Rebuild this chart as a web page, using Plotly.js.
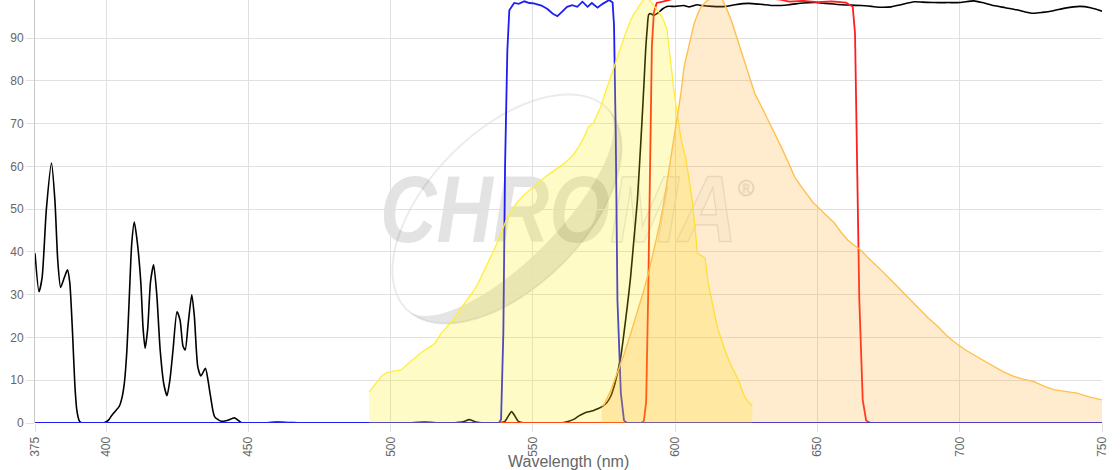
<!DOCTYPE html>
<html>
<head>
<meta charset="utf-8">
<script src="https://cdn.plot.ly/plotly-3.0.1.min.js"></script>
<style>html,body{margin:0;padding:0;background:#fff;}#chart{width:1120px;height:470px;}</style>
</head>
<body>
<div id="chart"></div>
<script>
// ---- Data (wavelength nm, transmission / intensity %) ----
const xTickVals = [375, 400, 450, 500, 550, 600, 650, 700, 750];
const xTickText = ['375', '400', '450', '500', '550', '600', '650', '700', '750'];
const yTickVals = [0, 10, 20, 30, 40, 50, 60, 70, 80, 90];
const xAxisTitle = 'Wavelength (nm)';

const blackX = [375,376.4,377.5,379,380.8,382,383,384,385.3,386.4,387.2,388.2,389,389.7,390.5,391.1,395,399.5,401,401.7,403,404.6,405.6,406.4,407.3,408.1,409,409.9,411,412.2,413,413.7,414.6,415.6,416.7,417.8,419,420.3,421.4,422.4,423.5,424.9,426,427,427.8,428.8,430.1,431,432.2,433.3,434.9,435.8,436.7,438.1,440.4,442.5,445.1,446.5,447.4,455,460,465,470,505,512,518,525,527.7,530,533,537.6,540,541.5,542.5,543.5,545,547,559.8,562,564.5,566,568,570,571.5,573,574.4,576,577.3,578.5,579.7,581,582,583.2,584.3,585.5,586.7,587.6,588.4,589,589.6,590.2,590.7,591.5,592.5,593.3,594.2,595.5,597.1,600,603,605,607.7,609.3,613,617.6,621,625.8,630,635,640,645,649.4,653,658.3,662,665.3,669,672.3,676,679.3,684,687,691,696,700.2,704.9,708,711.9,716,720,723,725.9,729,732.9,737,742.2,746,750];
const blackY = [39.7,30.7,34,50,60.8,52,38,31.7,34,35.8,33,21,9,3,0.6,0.1,0,0.1,0.8,1.5,2.6,3.9,6,9.3,17,28.8,42,47,42,32.7,22,17.5,22,33,37,30,17,9,6.4,10,17,26,24,18,17.1,23,30,25,13.2,11,12.8,10,6.2,1.5,0.4,0.6,1.2,0.6,0.1,0.05,0.2,0.1,0,0,0.2,0,0.2,0.8,0.2,0,0,0.3,1.8,2.7,1.8,0.3,0,0,0.3,0.9,1.6,2.3,2.7,3,3.4,3.9,4.8,6.2,8.5,11.7,16,21,27.5,34,43,52,62,71.5,79,87,92.5,95.5,95.7,95.3,95.6,96,96.8,97.4,97.4,97.6,97.3,97.8,97.6,97.4,97.4,97.8,98.1,97.9,97.6,97.8,98.2,98.3,98.1,97.8,97.7,97.6,97.4,97.2,97.3,97.8,98.5,98.4,98.3,98.3,98.3,98.7,98.3,97.6,97.1,96.6,96.1,95.8,96,96.4,97,97.4,97.1,96.3];

const blueX = [375,538,538.8,539.6,540.2,541,541.7,543.4,545,547,548.7,550.3,553,555.1,557,558.6,560,562,563.8,565.6,567.4,569.2,570.7,572.7,574.5,576.8,578,578.5,579.1,579.7,580.9,582,583,750];
const blueY = [0,0,0.8,21,60,87,96.5,98.2,98,98.6,98.2,98.1,97.6,96.8,95.7,95.1,96,97.3,97.7,97.3,98.5,97.3,98.2,97.1,98,98.9,98.3,93,67.7,28.8,7,0.6,0,0];

const redX = [375,588,589,589.8,590.5,591.2,591.8,592.5,593.5,596,600,610,620,630,637,640,645,650,655,660,662.4,663.2,663.9,664.7,665.9,667.1,668.7,750];
const redY = [0,0,0.5,5,30,65,88,96,98.2,98.6,99.3,99.5,99.6,99.4,99.0,98.5,98.7,98.4,98.6,98.3,97.3,91,60,29,5.4,0.6,0,0];

const yellowX = [492.4,494.5,496.7,498.5,500.2,503.7,506,509,511,513.1,515.5,517.8,520,522.4,524,525.9,527.7,529.4,531,532.4,534,535.3,536.7,538.2,539.7,541.1,542.8,544.6,547,549.3,552,555.1,558,561,562.8,564.5,566.3,568,569.5,570.3,571.3,572.5,573.8,575.5,577.3,579,580.8,582.5,584.3,585.5,586.7,588,589,590.5,591.5,592.5,594.8,596,597.1,598.3,599.5,600.8,602,603.7,606,607.2,607.8,609.6,610.5,611.6,612.8,614,615,616.3,618,619.8,621,622.2,623.3,624.4,625.5,626.8,627.1];
const yellowY = [7.2,9,10.9,11.8,12,12.4,13.8,15.6,16.6,17.5,18.6,21,22.6,24.5,26.2,28,29.6,31.1,33,35,37,38.9,41,43.5,46,48.2,50,51.7,53.4,54.8,56.3,57.9,59.3,60.7,61.8,63,64.8,66.9,69.3,69.6,70.2,72,73.9,77.4,80.9,84.4,87.9,91,94.1,95.7,96.8,98.2,99.1,99.4,98.6,97.6,95.6,94,92,84.5,78,72,66.5,62,52,44,39.7,39,38.6,32.7,28.5,24.9,22,19.4,16,13.2,11.6,10.1,8,6.2,5.1,4.3,4.1];

const orangeX = [574.1,575,577.3,579.7,582,584.4,586.7,589,590.8,592.6,594.4,596.1,597.3,598.4,599.6,600.8,602,603.1,604.9,606.6,608,609,611.3,613.5,616.3,618,619.8,622,624.4,626,628,630.3,632.7,635,637.3,639.7,642,644.4,646.5,648.5,650.1,653,656,658.3,660.6,663,665.3,667.5,670,672.3,674.7,677.5,680.5,683.5,686.3,689,692.2,695,698,701.5,705,708.5,712,715.5,719,722.5,726,729.5,733,737,741.2,745.5,750];
const orangeY = [4,4.3,7.5,11.7,16,21,26,31.1,35.5,40.4,46,52,57,61.4,66,71.5,77,83.2,88.6,93.3,95.8,97.2,98.8,99.5,99.3,97,94,89.5,84.8,81.5,77,74,70.8,67.5,64.5,61,57.5,55.2,53.2,51.5,50.5,48.6,46.7,44.6,42.8,41.5,40.4,38.8,37.3,35.8,34.2,32.3,30.3,28.3,26.4,24.5,22.6,20.7,19,17.3,15.9,14.5,13.2,11.9,10.9,10.2,9.7,8.6,7.8,7.4,7,6.1,5.4];

// ---- Watermark (decorative logo) ----
const logoSvg =
  '<svg xmlns="http://www.w3.org/2000/svg" width="1067" height="423" viewBox="0 0 1067 423" preserveAspectRatio="none">' +
  '<g transform="translate(472,209) rotate(-45)">' +
  '<ellipse cx="0" cy="0" rx="142" ry="78" fill="none" stroke="rgba(0,0,0,0.08)" stroke-width="2"/>' +
  '<path d="M -142 0 A 142 78 0 0 0 142 0 A 142 52 0 0 1 -142 0 Z" fill="rgba(0,0,0,0.1)"/>' +
  '</g>' +
  '<text x="345" y="242" font-family="Liberation Sans, Arial, sans-serif" font-weight="bold" font-style="italic" font-size="94" textLength="230" lengthAdjust="spacingAndGlyphs" fill="rgba(0,0,0,0.11)">CHRO</text>' +
  '<text x="575" y="242" font-family="Liberation Sans, Arial, sans-serif" font-weight="bold" font-style="italic" font-size="94" textLength="127" lengthAdjust="spacingAndGlyphs" fill="rgba(0,0,0,0.02)" stroke="rgba(0,0,0,0.1)" stroke-width="1.5">MA</text>' +
  '<text x="703" y="196" font-family="Liberation Sans, Arial, sans-serif" font-size="22" fill="none" stroke="rgba(0,0,0,0.12)" stroke-width="1">®</text>' +
  '</svg>';
const logoUri = 'data:image/svg+xml;charset=utf-8,' + encodeURIComponent(logoSvg);

const traces = [
  {x: blackX, y: blackY, type: 'scatter', mode: 'lines', line: {color: '#000000', width: 1.6, shape: 'spline', smoothing: 0.6}, hoverinfo: 'skip'},
  {x: redX, y: redY, type: 'scatter', mode: 'lines', line: {color: 'rgb(255,30,30)', width: 1.8}, hoverinfo: 'skip'},
  {x: blueX, y: blueY, type: 'scatter', mode: 'lines', line: {color: 'rgb(30,30,240)', width: 1.8}, hoverinfo: 'skip'},
  {x: yellowX, y: yellowY, type: 'scatter', mode: 'lines', fill: 'tozeroy', fillcolor: 'rgba(255,238,0,0.22)', line: {color: 'rgb(255,238,60)', width: 1.3}, hoverinfo: 'skip'},
  {x: orangeX, y: orangeY, type: 'scatter', mode: 'lines', fill: 'tozeroy', fillcolor: 'rgba(255,170,30,0.22)', line: {color: 'rgb(255,192,80)', width: 1.4}, hoverinfo: 'skip'}
];

const layout = {
  width: 1120, height: 470,
  margin: {l: 35, r: 18, t: 0, b: 47},
  paper_bgcolor: '#ffffff', plot_bgcolor: '#ffffff',
  showlegend: false,
  font: {family: 'Liberation Sans, Arial, sans-serif', color: '#666666', size: 12},
  xaxis: {
    range: [375, 750], tickmode: 'array', tickvals: xTickVals, ticktext: xTickText,
    tickangle: -90, ticks: 'outside', ticklen: 8, tickcolor: '#e0e0e0',
    showgrid: true, gridcolor: '#e0e0e0', zeroline: false, showline: false,
    tickfont: {size: 12, color: '#666666'}
  },
  yaxis: {
    range: [0, 98.9], tickmode: 'array', tickvals: yTickVals,
    ticks: 'outside', ticklen: 8, tickcolor: '#e0e0e0',
    showgrid: true, gridcolor: '#e0e0e0', zeroline: false,
    showline: true, linecolor: '#c8c8c8', linewidth: 1,
    tickfont: {size: 12, color: '#666666'}
  },
  annotations: [{
    text: xAxisTitle, xref: 'paper', yref: 'paper', x: 0.5, y: -0.09,
    xanchor: 'center', yanchor: 'middle', showarrow: false,
    font: {size: 16, color: '#666666', family: 'Liberation Sans, Arial, sans-serif'}
  }],
  images: [{
    source: logoUri, xref: 'x', yref: 'y', x: 375, y: 98.9, sizex: 375, sizey: 98.9,
    sizing: 'stretch', xanchor: 'left', yanchor: 'top', layer: 'below', opacity: 1
  }]
};

Plotly.newPlot('chart', traces, layout, {displayModeBar: false, staticPlot: true});
</script>
</body>
</html>
